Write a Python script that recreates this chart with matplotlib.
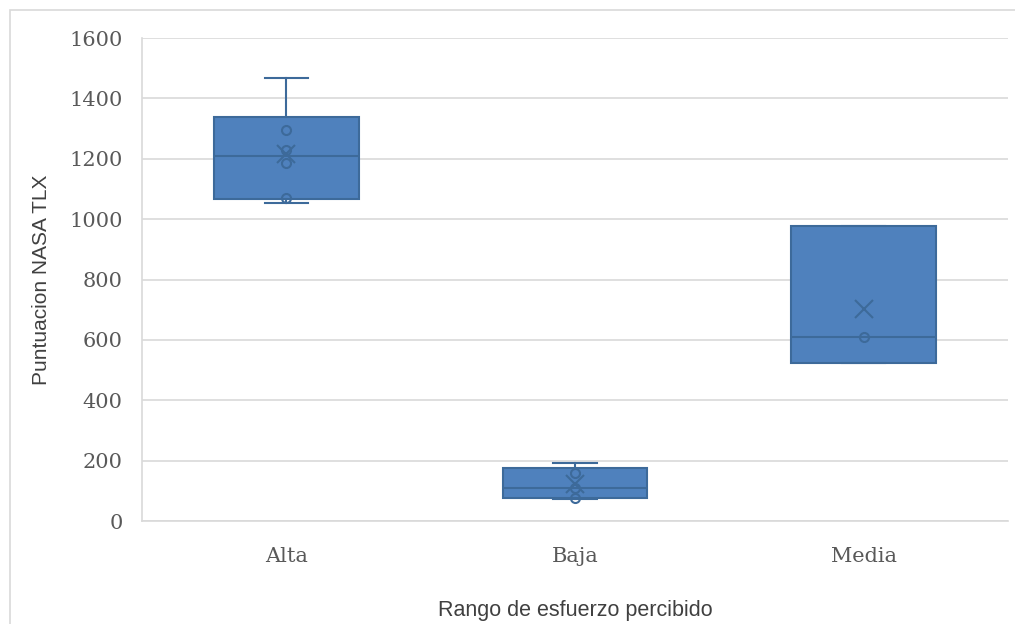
import numpy as np
import matplotlib.pyplot as plt
from matplotlib.patches import Rectangle

categorias = ["Alta", "Baja", "Media"]
alta = [1052, 1071, 1187, 1230, 1295, 1467]
baja = [74, 77, 110, 158, 193]
media = [524, 610, 978]
grupos = [alta, baja, media]

relleno = "#4F81BD"
borde = "#3D6A9A"


def cuartil_exc(vals, p):
    # cuartil "exclusivo" (posicion (n+1)*p), igual que la hoja de calculo
    v = np.sort(vals)
    pos = (len(v) + 1) * p - 1
    lo = int(np.floor(pos))
    lo = min(max(lo, 0), len(v) - 1)
    hi = min(lo + 1, len(v) - 1)
    return v[lo] + (pos - lo) * (v[hi] - v[lo])


stats = []
for nombre, vals in zip(categorias, grupos):
    stats.append(dict(label=nombre,
                      med=float(np.median(vals)),
                      q1=cuartil_exc(vals, 0.25),
                      q3=cuartil_exc(vals, 0.75),
                      whislo=min(vals), whishi=max(vals),
                      mean=float(np.mean(vals)), fliers=[]))

fig = plt.figure(figsize=(10.15, 6.24), dpi=100)
ax = fig.add_axes([0.14, 0.165, 0.853, 0.774])

pos = np.arange(len(categorias)) + 0.5
ax.bxp(stats, positions=pos, widths=0.5, patch_artist=True,
       showmeans=True, showcaps=True,
       boxprops=dict(facecolor=relleno, edgecolor=borde, linewidth=1.5),
       medianprops=dict(color=borde, linewidth=1.5),
       whiskerprops=dict(color=borde, linewidth=1.5),
       capprops=dict(color=borde, linewidth=1.5),
       capwidths=0.15,
       meanprops=dict(marker="x", markeredgecolor=borde, markersize=13,
                      markeredgewidth=1.5),
       zorder=3)

# puntos interiores (sin los extremos de los bigotes)
for x, vals in zip(pos, grupos):
    internos = sorted(vals)[1:-1]
    ax.plot([x] * len(internos), internos, linestyle="none", marker="o",
            markersize=6.5, markerfacecolor="none", markeredgecolor=borde,
            markeredgewidth=1.5, zorder=4)

ax.set_xlim(0, 3)
ax.set_ylim(0, 1600)
ax.set_yticks(range(0, 1601, 200))
ax.set_xticks(pos)
ax.set_xticklabels(categorias)
ax.grid(axis="y", color="#D9D9D9", linewidth=1.2, zorder=0)
ax.set_axisbelow(True)
for s in ["top", "right"]:
    ax.spines[s].set_visible(False)
for s in ["left", "bottom"]:
    ax.spines[s].set_color("#D9D9D9")
    ax.spines[s].set_linewidth(1.2)
ax.tick_params(axis="both", length=0, labelsize=15, colors="#595959")
ax.tick_params(axis="y", pad=14)
ax.tick_params(axis="x", pad=19)
for lab in ax.get_xticklabels() + ax.get_yticklabels():
    lab.set_family("DejaVu Serif")

ax.set_ylabel("Puntuacion NASA TLX", family="Liberation Sans", fontsize=15,
              color="#404040", labelpad=13)
ax.set_xlabel("Rango de esfuerzo percibido", family="Liberation Sans",
              fontsize=15.5, color="#404040", labelpad=24)

# borde del area del grafico
fig.patches.append(Rectangle((10 / 1015, -0.05), 1.1, 1 - 10 / 624 + 0.05,
                             transform=fig.transFigure, fill=False,
                             edgecolor="#D9D9D9", linewidth=1.2))

fig.savefig("out.png", dpi=100)
